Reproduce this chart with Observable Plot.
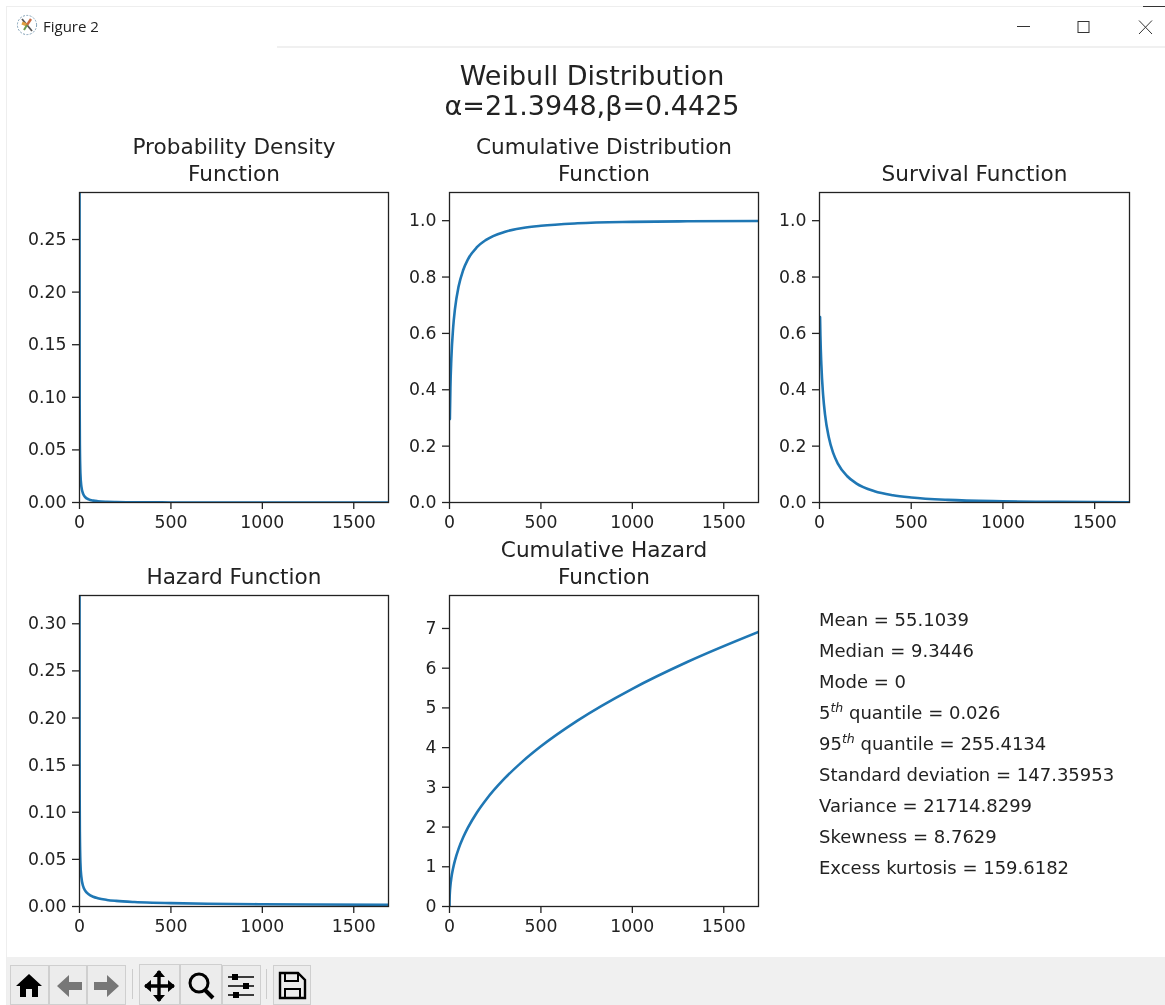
<!DOCTYPE html>
<html>
<head>
<meta charset="utf-8">
<script src="https://cdn.jsdelivr.net/npm/d3@7"></script>
<script src="https://cdn.jsdelivr.net/npm/@observablehq/plot@0.6"></script>
<style>
html,body{margin:0;padding:0;background:#fff;width:1165px;height:1005px;overflow:hidden}
#page{position:relative;width:1165px;height:1005px;font-family:"DejaVu Sans",sans-serif;color:#222;filter:blur(.4px)}
.abs{position:absolute}
.panel{position:absolute}
.panel svg{display:block;overflow:visible}
#sup{position:absolute;left:292px;width:600px;top:61px;text-align:center;font-size:27px;line-height:30px;white-space:nowrap}
.stat{position:absolute;left:819px;font-size:18px;line-height:20px;white-space:nowrap}
.stat sup{font-size:12.5px;font-style:italic;line-height:0}
</style>
</head>
<body>
<div id="page">
  <!-- window chrome -->
  <div class="abs" style="left:6px;top:6px;width:1159px;height:1px;background:#eee"></div>
  <div class="abs" style="left:6px;top:6px;width:1px;height:999px;background:#eee"></div>
  <div class="abs" style="left:1143px;top:6px;width:22px;height:1px;background:#333"></div>
  <div class="abs" style="left:277px;top:46px;width:888px;height:2px;background:#f0f0f0"></div>
  <div class="abs" style="left:43px;top:16px;font:15px 'Open Sans',sans-serif;color:#222">Figure 2</div>
  <svg class="abs" style="left:16px;top:14px" width="24" height="24" viewBox="0 0 24 24">
    <circle cx="11" cy="11" r="9.6" fill="#fff" stroke="#7f9fb5" stroke-dasharray="2 1.4"/>
    <path d="M6 5 L16 17" stroke="#555" stroke-width="1.8"/>
    <path d="M11 11 L6 9" stroke="#e0a040" stroke-width="3"/>
    <path d="M11 11 L15 5" stroke="#c86a40" stroke-width="2.4"/>
    <path d="M11 11 L8 16" stroke="#6a9a50" stroke-width="2"/>
  </svg>
  <svg class="abs" style="left:1000px;top:10px" width="165" height="36" fill="none" stroke="#333" stroke-width="1">
    <path d="M17 16.5 H30"/>
    <rect x="78" y="11.5" width="11" height="11"/>
    <path d="M139 10.5 L152 24 M152 10.5 L139 24"/>
  </svg>
  <!-- toolbar -->
  <div class="abs" style="left:7px;top:957px;width:1158px;height:48px;background:#f0f0f0"></div>
  <svg class="abs" style="left:0;top:957px" width="330" height="48">
    <g fill="#ececec" stroke="#cfcfcf">
      <rect x="10.5" y="8.5" width="38" height="39"/>
      <rect x="49.5" y="8.5" width="37" height="39"/>
      <rect x="87.5" y="8.5" width="38" height="39"/>
      <rect x="139.5" y="7.5" width="40" height="40"/>
      <rect x="180.5" y="7.5" width="41" height="40"/>
      <rect x="222.5" y="8.5" width="38" height="39"/>
      <rect x="273.5" y="8.5" width="37" height="39"/>
    </g>
    <path d="M132.5 12V42M266.5 12V42" stroke="#ccc"/>
    <!-- home -->
    <path d="M16 29 L29 17 L42 29 L38 29 L38 40 L32 40 L32 32 L26 32 L26 40 L20 40 L20 29 Z" fill="#000"/>
    <!-- back / forward -->
    <path d="M57 29 L69 18 L69 25 L82 25 L82 33 L69 33 L69 40 Z" fill="#777"/>
    <path d="M119 29 L107 18 L107 25 L94 25 L94 33 L107 33 L107 40 Z" fill="#777"/>
    <!-- move -->
    <path d="M145 29H174M159 14V44" stroke="#000" stroke-width="3.4"/>
    <path d="M159 13 L165 20 L153 20Z M159 45 L165 38 L153 38Z M144 29 L151 23 L151 35Z M175 29 L168 23 L168 35Z" fill="#000"/>
    <!-- zoom -->
    <circle cx="199" cy="26" r="9" fill="none" stroke="#000" stroke-width="3"/>
    <path d="M205 33 L213 41" stroke="#000" stroke-width="4"/>
    <!-- config -->
    <path d="M228 20H254M228 29H254M228 38H254" stroke="#000" stroke-width="1.6"/>
    <path d="M232 17h6v6h-6z M243 26h6v6h-6z M233 35h6v6h-6z" fill="#000"/>
    <!-- save -->
    <path d="M280 16H298L305 23V41H280Z" fill="none" stroke="#000" stroke-width="2.4"/>
    <path d="M285 16H298V24H285Z M285 32H300V41H285Z" fill="none" stroke="#000" stroke-width="2"/>
  </svg>
  <div id="sup">Weibull Distribution<br>α=21.3948,β=0.4425</div>
</div>
<script>
// Values
const xMax = 1690;
const xTicks = [0, 500, 1000, 1500];

const pdfX = [0.1, 0.2, 0.5, 1, 2, 5, 10, 20, 30, 50, 75, 100, 150, 200, 300, 400, 500, 700, 1000, 1300, 1700];
const pdfY = [0.375, 0.247, 0.139, 0.0882, 0.0546, 0.0275, 0.0155, 0.00814, 0.00536, 0.003, 0.0018, 0.00121, 0.00066, 0.0004, 0.00019, 0.00011, 0.000064, 0.000028, 0.00001, 0.000004, 0.000002];

const cdfX = [2, 5, 10, 20, 30, 50, 75, 100, 150, 200, 300, 400, 500, 700, 1000, 1300, 1700];
const cdfY = [0.296, 0.409, 0.51, 0.621, 0.687, 0.767, 0.825, 0.862, 0.906, 0.932, 0.96, 0.974, 0.982, 0.9907, 0.9958, 0.9979, 0.999];

const sfX = [3, 5, 10, 20, 30, 50, 75, 100, 150, 200, 300, 400, 500, 700, 1000, 1300, 1700];
const sfY = [0.658, 0.591, 0.49, 0.379, 0.313, 0.233, 0.175, 0.138, 0.094, 0.068, 0.04, 0.026, 0.018, 0.0093, 0.0042, 0.0021, 0.001];

const hfX = [0.1, 0.15, 0.2, 0.5, 1, 2, 5, 10, 20, 30, 50, 75, 100, 150, 200, 300, 400, 500, 700, 1000, 1300, 1700];
const hfY = [0.412, 0.329, 0.28, 0.168, 0.1141, 0.0775, 0.0465, 0.0316, 0.02147, 0.01713, 0.01289, 0.01028, 0.00876, 0.00699, 0.00595, 0.00475, 0.00404, 0.00357, 0.00296, 0.00243, 0.0021, 0.0018];

const chfX = [0, 0.1, 0.5, 1, 2, 5, 10, 20, 30, 50, 75, 100, 150, 200, 300, 400, 500, 700, 1000, 1300, 1700];
const chfY = [0, 0.0931, 0.1898, 0.2578, 0.3504, 0.5256, 0.7142, 0.9706, 1.1614, 1.456, 1.742, 1.979, 2.368, 2.689, 3.217, 3.654, 4.033, 4.68, 5.481, 6.155, 6.931];

const statLines = [
  "Mean = 55.1039",
  "Median = 9.3446",
  "Mode = 0",
  "5<sup>th</sup> quantile = 0.026",
  "95<sup>th</sup> quantile = 255.4134",
  "Standard deviation = 147.35953",
  "Variance = 21714.8299",
  "Skewness = 8.7629",
  "Excess kurtosis = 159.6182"
];

const panels = [
  {title: "Probability Density\nFunction", xs: pdfX, ys: pdfY, yMax: 0.2947, yTicks: [0, .05, .10, .15, .20, .25], fmt: ".2f", left: 79, right: 388, top: 192, bottom: 502},
  {title: "Cumulative Distribution\nFunction", xs: cdfX, ys: cdfY, yMax: 1.1, yTicks: [0, .2, .4, .6, .8, 1], fmt: ".1f", left: 449, right: 758, top: 192, bottom: 502},
  {title: "Survival Function", xs: sfX, ys: sfY, yMax: 1.1, yTicks: [0, .2, .4, .6, .8, 1], fmt: ".1f", left: 819, right: 1129, top: 192, bottom: 502},
  {title: "Hazard Function", xs: hfX, ys: hfY, yMax: 0.33, yTicks: [0, .05, .10, .15, .20, .25, .30], fmt: ".2f", left: 79, right: 388, top: 595, bottom: 906},
  {title: "Cumulative Hazard\nFunction", xs: chfX, ys: chfY, yMax: 7.83, yTicks: [0, 1, 2, 3, 4, 5, 6, 7], fmt: "d", left: 449, right: 758, top: 595, bottom: 906}
];

const page = document.getElementById("page");
const ink = "#222";
const mL = 70, mR = 20, mT = 70, mB = 45;

for (const p of panels) {
  const w = p.right - p.left, h = p.bottom - p.top;
  const data = p.xs.map((x, i) => ({x, y: p.ys[i]}));
  const chart = Plot.plot({
    width: w + mL + mR,
    height: h + mT + mB,
    marginLeft: mL, marginRight: mR, marginTop: mT, marginBottom: mB,
    style: {fontFamily: "'DejaVu Sans',sans-serif", fontSize: "17.3px", background: "transparent", color: ink, overflow: "visible"},
    x: {domain: [0, xMax], range: [mL, mL + w]},
    y: {domain: [0, p.yMax], range: [mT + h, mT]},
    marks: [
      Plot.line(data, {x: "x", y: "y", stroke: "#1f77b4", strokeWidth: 2.6, curve: "monotone-x", clip: true}),
      Plot.frame({stroke: "#222", strokeWidth: 1.3}),
      Plot.axisX({ticks: xTicks, tickFormat: "d", tickSize: 7, tickPadding: 6, label: null, stroke: "#222", fill: ink, strokeWidth: 1.3, fontVariant: "normal"}),
      Plot.axisY({ticks: p.yTicks, tickFormat: p.fmt, tickSize: 7, tickPadding: 6, label: null, stroke: "#222", fill: ink, strokeWidth: 1.3, fontVariant: "normal"}),
      Plot.text([p.title], {frameAnchor: "top", lineAnchor: "bottom", dy: -12, fontSize: 21.6, lineHeight: 1.25, fill: ink, textAnchor: "middle"})
    ]
  });
  const holder = document.createElement("div");
  holder.className = "panel";
  holder.style.left = (p.left - mL) + "px";
  holder.style.top = (p.top - mT) + "px";
  holder.appendChild(chart);
  page.appendChild(holder);
}

statLines.forEach((t, i) => {
  const d = document.createElement("div");
  d.className = "stat";
  d.style.top = (610 + 31 * i) + "px";
  d.innerHTML = t;
  page.appendChild(d);
});
</script>
</body>
</html>
